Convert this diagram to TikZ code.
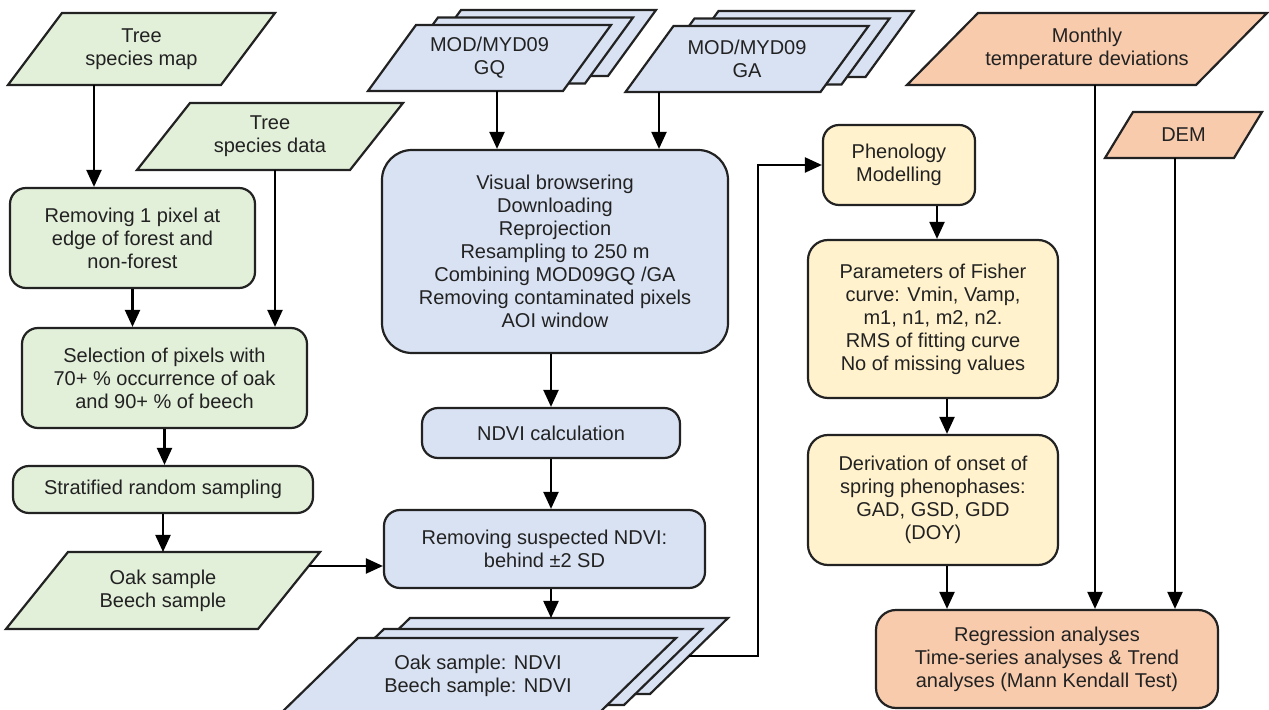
\documentclass[tikz,border=0pt]{standalone}
\usepackage{fontspec}
\setmainfont{Liberation Sans}
\usetikzlibrary{arrows.meta,backgrounds}
\definecolor{greenfill}{HTML}{E2EFD9}
\definecolor{bluefill}{HTML}{D9E2F3}
\definecolor{yellowfill}{HTML}{FFF2CC}
\definecolor{orangefill}{HTML}{F8CBAD}
\definecolor{lineclr}{HTML}{222222}
\definecolor{textclr}{HTML}{222222}
% parallelogram behind a data node: node, slant, fill
\newcommand\slabshape[3]{\filldraw[fill=#3,draw=lineclr,line width=1.1pt,line join=miter]
  ([xshift=#2]#1.north west) -- (#1.north east) -- ([xshift=-#2]#1.south east) -- (#1.south west) -- cycle;}

\begin{document}
\begin{tikzpicture}[
  x=0.5pt,y=-0.5pt,
  box/.style={draw=lineclr,line width=1.1pt,rounded corners=8pt,align=center,font=\fontsize{10}{11.5}\selectfont,text=textclr,inner sep=2pt},
  data/.style={draw=none,outer sep=0pt,align=center,font=\fontsize{10}{11.5}\selectfont,text=textclr,inner sep=2pt},
  gbox/.style={box,fill=greenfill},
  bbox/.style={box,fill=bluefill},
  ybox/.style={box,fill=yellowfill},
  obox/.style={box,fill=orangefill},
  arrow/.style={-{Triangle[length=8.5pt,width=7.5pt]},line width=1.1pt,draw=black}
]
\useasboundingbox (0,0) rectangle (1269,710);
\clip (0,0) rectangle (1269,710);

% left column: tree species
\node[data,minimum width=133.5pt,minimum height=36pt] (map) at (141.5,49) {Tree\\species map};
\node[data,minimum width=133pt,minimum height=33.5pt] (spdata) at (270,136.5) {Tree\\species data};
\node[gbox,minimum width=122.5pt,minimum height=50pt] (edge) at (132.5,238) {Removing 1 pixel at\\edge of forest and\\non-forest};
\node[gbox,minimum width=142.5pt,minimum height=50pt] (select) at (164.5,378) {Selection of pixels with\\70+ \% occurrence of oak\\and 90+ \% of beech};
\node[gbox,minimum width=150pt,minimum height=23.5pt] (strat) at (163,489.5) {Stratified random sampling};
\node[data,minimum width=157pt,minimum height=38.5pt] (samples) at (163,590.5) {Oak sample\\Beech sample};

% middle column: MODIS data
\node[data,minimum width=121.5pt,minimum height=33pt] (gq3) at (534.5,43) {};
\node[data,minimum width=121.5pt,minimum height=33pt] (gq2) at (511.5,50.5) {};
\node[data,minimum width=121.5pt,minimum height=33pt] (gq) at (489.5,58) {MOD/MYD09\\GQ};
\node[data,minimum width=121.5pt,minimum height=33pt] (ga3) at (792,44) {};
\node[data,minimum width=121.5pt,minimum height=33pt] (ga2) at (768,51.5) {};
\node[data,minimum width=121.5pt,minimum height=33pt] (ga) at (747,59) {MOD/MYD09\\GA};
\node[bbox,rounded corners=15pt,minimum width=173pt,minimum height=101.5pt] (prep) at (555,251.5) {Visual browsering\\Downloading\\Reprojection\\Resampling to 250 m\\Combining MOD09GQ /GA\\Removing contaminated pixels\\AOI window};
\node[bbox,minimum width=129pt,minimum height=25pt] (ndvi) at (551,433) {NDVI calculation};
\node[bbox,minimum width=160.5pt,minimum height=39pt] (suspect) at (544.5,549) {Removing suspected NDVI:\\behind ±2 SD};
\node[data,minimum width=198pt,minimum height=38pt] (obs3) at (530,656) {};
\node[data,minimum width=198pt,minimum height=38pt] (obs2) at (504,667) {};
\node[data,minimum width=198pt,minimum height=38pt] (obs) at (478,676) {Oak sample: NDVI\\Beech sample: NDVI};

% right column: phenology
\node[ybox,minimum width=76pt,minimum height=40pt] (phen) at (899,165) {Phenology\\Modelling};
\node[ybox,rounded corners=10pt,minimum width=125pt,minimum height=79pt] (param) at (933,319) {Parameters of Fisher\\curve: Vmin, Vamp,\\m1, n1, m2, n2.\\RMS of fitting curve\\No of missing values};
\node[ybox,rounded corners=10pt,minimum width=125pt,minimum height=65pt] (onset) at (933,500) {Derivation of onset of\\spring phenophases:\\GAD, GSD, GDD\\(DOY)};
\node[data,minimum width=180pt,minimum height=36pt] (temp) at (1087,49) {Monthly\\temperature deviations};
\node[data,minimum width=78.5pt,minimum height=23pt] (dem) at (1183.5,135) {DEM};
\node[obox,rounded corners=10pt,minimum width=171pt,minimum height=49pt] (regr) at (1047,659) {Regression analyses\\Time-series analyses \& Trend\\analyses (Mann Kendall Test)};

\begin{pgfonlayer}{background}
\slabshape{map}{27pt}{greenfill}
\slabshape{spdata}{26.5pt}{greenfill}
\slabshape{samples}{31pt}{greenfill}
\slabshape{gq3}{24pt}{bluefill}
\slabshape{gq2}{24pt}{bluefill}
\slabshape{gq}{24pt}{bluefill}
\slabshape{ga3}{24pt}{bluefill}
\slabshape{ga2}{24pt}{bluefill}
\slabshape{ga}{24pt}{bluefill}
\slabshape{obs3}{39pt}{bluefill}
\slabshape{obs2}{39pt}{bluefill}
\slabshape{obs}{39pt}{bluefill}
\slabshape{temp}{35.5pt}{orangefill}
\slabshape{dem}{14pt}{orangefill}
\end{pgfonlayer}

\coordinate (turn) at (758,165);

\draw[arrow] ([xshift=-23.75pt]map.south) -- ([xshift=-23.75pt]map.south |- edge.north);
\draw[arrow] ([xshift=2.5pt]spdata.south) -- ([xshift=2.5pt]spdata.south |- select.north);
\draw[arrow] (edge.south) -- (edge.south |- select.north);
\draw[arrow] (select.south) -- (select.south |- strat.north);
\draw[arrow] (strat.south) -- (strat.south |- samples.north);
\draw[arrow] ([xshift=-5.6pt,yshift=-7pt]samples.north east) -- ([yshift=-7pt]samples.north east -| suspect.west);
\draw[arrow] ([xshift=3.75pt]gq.south) -- ([xshift=3.75pt]gq.south |- prep.north);
\draw[arrow] ([xshift=-44pt]ga.south) -- ([xshift=-44pt]ga.south |- prep.north);
\draw[arrow] (ndvi.north |- prep.south) -- (ndvi.north);
\draw[arrow] (ndvi.south) -- (ndvi.south |- suspect.north);
\draw[arrow] ([xshift=3.25pt]suspect.south) -- ([xshift=3.25pt]suspect.south |- obs3.north);
\draw[arrow] ([xshift=-19.5pt]obs3.east) -| (turn) -- (phen.west);
\draw[arrow] ([xshift=19pt]phen.south) -- ([xshift=19pt]phen.south |- param.north);
\draw[arrow] ([xshift=7pt]param.south) -- ([xshift=7pt]param.south |- onset.north);
\draw[arrow] ([xshift=7pt]onset.south) -- ([xshift=7pt]onset.south |- regr.north);
\draw[arrow] ([xshift=4pt]temp.south) -- ([xshift=4pt]temp.south |- regr.north);
\draw[arrow] ([xshift=-4.25pt]dem.south) -- ([xshift=-4.25pt]dem.south |- regr.north);
\end{tikzpicture}
\end{document}
